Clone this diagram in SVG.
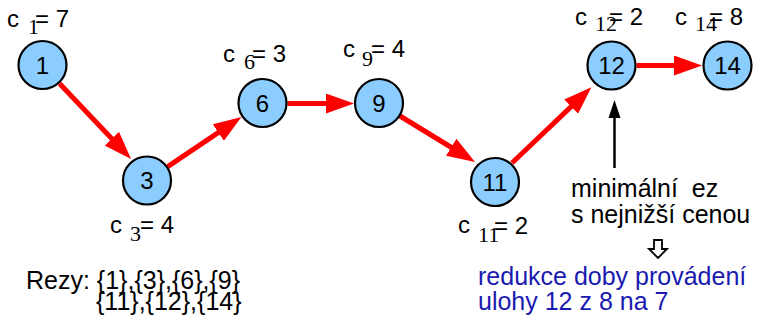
<svg xmlns="http://www.w3.org/2000/svg" width="758" height="322" viewBox="0 0 758 322">
<style>
.node{fill:#8ccdff;stroke:#000;stroke-width:2.2}
.num{font-family:"Liberation Sans",Arial,sans-serif;font-size:24px;fill:#000;text-anchor:middle}
.lbl{font-family:"Liberation Sans",Arial,sans-serif;font-size:24px;fill:#000}
.sub{font-family:"Liberation Serif","Times New Roman",serif;font-size:22px;fill:#000}
.txt{font-family:"Liberation Sans",Arial,sans-serif;font-size:25px;fill:#000}
.blue{font-family:"Liberation Sans",Arial,sans-serif;font-size:25px;fill:#1a1ab0}
.edge{stroke:#ff0000;stroke-width:5;fill:none;marker-end:url(#ah)}
</style>
<defs>
<marker id="ah" markerUnits="userSpaceOnUse" markerWidth="28" markerHeight="20" refX="8" refY="10" orient="auto" viewBox="0 0 28 20">
<path d="M0,0 L28,10 L0,20 z" fill="#ff0000"/>
</marker>
</defs>
<g id="connectors">
<line class="edge" x1="59.5" y1="83.5" x2="117.3" y2="144.5"/>
<line class="edge" x1="167.7" y1="166.6" x2="224.9" y2="128.1"/>
<line class="edge" x1="287.5" y1="103.5" x2="334" y2="103.5"/>
<line class="edge" x1="400" y1="116" x2="458" y2="151.5"/>
<line class="edge" x1="512" y1="163" x2="576.9" y2="101.1"/>
<line class="edge" x1="636.5" y1="65.5" x2="682" y2="65.5"/>
<line x1="614.5" y1="168" x2="614.5" y2="115" stroke="#000" stroke-width="2.5"/>
<polygon points="614.5,100 608.5,118 620.5,118" fill="#000"/>
<polygon points="654,240 662,240 662,249 667,249 658,258 649,249 654,249" fill="#fff" stroke="#000" stroke-width="1.8" stroke-linejoin="miter"/>
</g>
<g id="n1">
<circle class="node" cx="42.5" cy="65" r="24"/>
<text class="num" x="42.5" y="73.5">1</text>
<text class="lbl" x="7" y="27">c</text><text class="sub" x="28" y="34">1</text><text class="lbl" x="35" y="27">= 7</text>
</g>
<g id="n3">
<circle class="node" cx="147" cy="180.5" r="24"/>
<text class="num" x="147" y="189">3</text>
<text class="lbl" x="110" y="233">c</text><text class="sub" x="130" y="241">3</text><text class="lbl" x="140" y="233">= 4</text>
</g>
<g id="n6">
<circle class="node" cx="262.5" cy="103" r="24"/>
<text class="num" x="262.5" y="111.5">6</text>
<text class="lbl" x="223" y="62">c</text><text class="sub" x="244" y="69">6</text><text class="lbl" x="252" y="62">= 3</text>
</g>
<g id="n9">
<circle class="node" cx="379" cy="103" r="24"/>
<text class="num" x="379" y="111.5">9</text>
<text class="lbl" x="343" y="57">c</text><text class="sub" x="362" y="66">9</text><text class="lbl" x="371" y="57">= 4</text>
</g>
<g id="n11">
<circle class="node" cx="495" cy="182" r="24"/>
<text class="num" x="495" y="190.5">11</text>
<text class="lbl" x="458" y="233">c</text><text class="sub" x="478" y="241.5">11</text><text class="lbl" x="494" y="234">= 2</text>
</g>
<g id="n12">
<circle class="node" cx="611.5" cy="65.5" r="24"/>
<text class="num" x="611.5" y="74">12</text>
<text class="lbl" x="575" y="25">c</text><text class="sub" x="595" y="31">12</text><text class="lbl" x="609" y="25">= 2</text>
</g>
<g id="n14">
<circle class="node" cx="727.5" cy="65.5" r="24"/>
<text class="num" x="727.5" y="74">14</text>
<text class="lbl" x="675" y="25">c</text><text class="sub" x="695" y="31">14</text><text class="lbl" x="709" y="25">= 8</text>
</g>
<g id="notes">
<text class="txt" x="571" y="197" xml:space="preserve">minimální  ez</text>
<text class="txt" x="571" y="223">s nejnižší cenou</text>
<text class="blue" x="478" y="285">redukce doby provádení</text>
<text class="blue" x="478" y="310">ulohy 12 z 8 na 7</text>
<text class="txt" x="26" y="289">Rezy: {1},{3},{6},{9}</text>
<text class="txt" x="96" y="310">{11},{12},{14}</text>
</g>
</svg>
